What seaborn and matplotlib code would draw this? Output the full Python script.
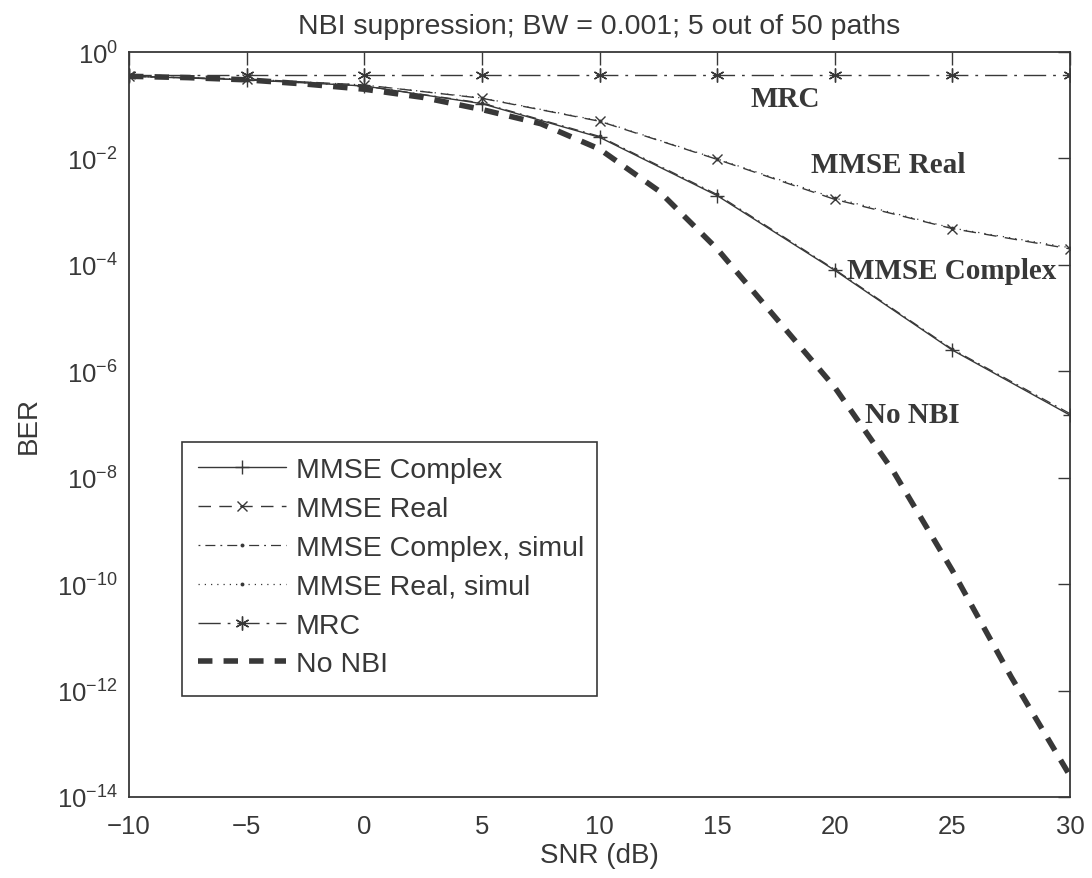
import numpy as np
import pandas as pd
import matplotlib
matplotlib.use("Agg")
import matplotlib.pyplot as plt
import seaborn as sns
from matplotlib.patches import Rectangle
from matplotlib.ticker import FixedLocator, LogFormatterSciNotation, NullLocator

# ---------------- data ----------------
snr = [-10, -5, 0, 5, 10, 15, 20, 25, 30]
ber_mmse_complex = [0.35, 0.30, 0.23, 0.107, 0.025, 2.0e-3, 7.9e-5, 2.5e-6, 1.5e-7]
ber_mmse_real = [0.35, 0.31, 0.24, 0.135, 0.050, 9.6e-3, 1.7e-3, 4.8e-4, 2.0e-4]
ber_mmse_complex_sim = [0.35, 0.30, 0.23, 0.110, 0.026, 2.1e-3, 8.2e-5, 2.6e-6, 1.6e-7]
ber_mmse_real_sim = [0.35, 0.31, 0.24, 0.137, 0.051, 9.8e-3, 1.8e-3, 4.9e-4, 2.1e-4]
ber_mrc = [0.37, 0.37, 0.37, 0.37, 0.37, 0.37, 0.37, 0.37, 0.37]

snr_nonbi = [-10, -7.5, -5, -2.5, 0, 2.5, 5, 7.5, 10, 12.5, 15, 17.5, 20, 22.5, 25, 27.5, 30]
ber_nonbi = [0.35, 0.33, 0.30, 0.25, 0.20, 0.14, 0.083, 0.045, 0.015, 2.5e-3, 2.0e-4,
             1.0e-5, 5e-7, 1.3e-8, 1.8e-10, 1.8e-12, 2.5e-14]

x_ticks = [-10, -5, 0, 5, 10, 15, 20, 25, 30]
y_ticks = [1e0, 1e-2, 1e-4, 1e-6, 1e-8, 1e-10, 1e-12, 1e-14]

title = "NBI suppression; BW = 0.001; 5 out of 50 paths"
labels = ["MMSE Complex", "MMSE Real", "MMSE Complex, simul", "MMSE Real, simul", "MRC", "No NBI"]

# ---------------- style ----------------
sns.set_theme(style="white")
plt.rcParams["font.family"] = ["Liberation Sans", "DejaVu Sans"]
plt.rcParams["mathtext.fontset"] = "custom"
plt.rcParams["mathtext.rm"] = "Liberation Sans"
plt.rcParams["mathtext.it"] = "Liberation Sans"
plt.rcParams["mathtext.default"] = "regular"

ink = "#383838"
fig = plt.figure(figsize=(10.92, 8.79), dpi=100)
fig.patch.set_facecolor("white")
ax = fig.add_axes([129 / 1092, 1 - 798 / 879, (1070 - 129) / 1092, (798 - 53) / 879])

asterisk = (6, 2, 0)

def draw(x, y, label, **kw):
    df = pd.DataFrame({"SNR": x, "BER": y})
    sns.lineplot(data=df, x="SNR", y="BER", ax=ax, label=label, color=ink,
                 estimator=None, sort=False, **kw)

draw(snr, ber_mmse_complex, labels[0], linestyle="-", linewidth=1.0,
     marker="+", markersize=10, markeredgewidth=1.0, markeredgecolor=ink)
draw(snr, ber_mmse_real, labels[1], linestyle=(0, (9, 6)), linewidth=1.0,
     marker="x", markersize=7.5, markeredgewidth=1.0, markeredgecolor=ink)
draw(snr, ber_mmse_complex_sim, labels[2], linestyle=(0, (1.5, 4, 8, 4)), linewidth=0.9,
     marker="o", markersize=2.8, markeredgewidth=0, markerfacecolor=ink)
draw(snr, ber_mmse_real_sim, labels[3], linestyle=(0, (1, 4)), linewidth=0.9,
     marker="o", markersize=2.8, markeredgewidth=0, markerfacecolor=ink)
draw(snr, ber_mrc, labels[4], linestyle=(0, (16, 5, 2, 5)), linewidth=1.0,
     marker=asterisk, markersize=10, markeredgewidth=1.0, markeredgecolor=ink)
draw(snr_nonbi, ber_nonbi, labels[5], linestyle=(0, (2.6, 2.0)), linewidth=4.0)

ax.set_yscale("log")
ax.set_xlim(-10, 30)
ax.set_ylim(1e-14, 1e0)
ax.xaxis.set_major_locator(FixedLocator(x_ticks))
ax.yaxis.set_major_locator(FixedLocator(y_ticks))
ax.yaxis.set_minor_locator(NullLocator())
ax.yaxis.set_major_formatter(LogFormatterSciNotation())
ax.tick_params(axis="both", which="major", direction="in", length=9, width=1.0,
               colors=ink, labelsize=18.5, top=True, right=True)
ax.tick_params(axis="x", pad=12)
ax.tick_params(axis="y", pad=8)
for s in ax.spines.values():
    s.set_color(ink)
    s.set_linewidth(1.3)
ax.grid(False)
ax.set_facecolor("white")

ax.set_title(title, fontsize=20.5, color=ink, pad=14)
ax.set_xlabel("SNR (dB)", fontsize=20, color=ink, labelpad=3)
ax.set_ylabel("BER", fontsize=20, color=ink, labelpad=11)

# in-plot annotations
ann = dict(fontsize=21, fontweight="bold", color=ink, family=["Liberation Serif", "DejaVu Serif"])
ax.text(17.9, 10 ** -0.88, "MRC", ha="center", va="center", **ann)
ax.text(19.0, 10 ** -2.12, "MMSE Real", ha="left", va="center", **ann)
ax.text(20.5, 10 ** -4.10, "MMSE Complex", ha="left", va="center", **ann)
ax.text(21.3, 10 ** -6.82, "No NBI", ha="left", va="center", **ann)

# legend with a box drawn at the reference extents
box = Rectangle((0.0563, 0.136), 0.4407, 0.341, transform=ax.transAxes,
                facecolor="white", edgecolor=ink, linewidth=1.2, zorder=4.5)
ax.add_patch(box)
leg = ax.legend(loc="upper left", bbox_to_anchor=(0.0563, 0.477), fontsize=20.5,
                frameon=False, handlelength=3.1, handletextpad=0.35,
                labelspacing=0.45, borderpad=0.55, borderaxespad=0)
leg.set_zorder(5)
for t in leg.get_texts():
    t.set_color(ink)

fig.savefig("out.png", dpi=100, facecolor="white")
